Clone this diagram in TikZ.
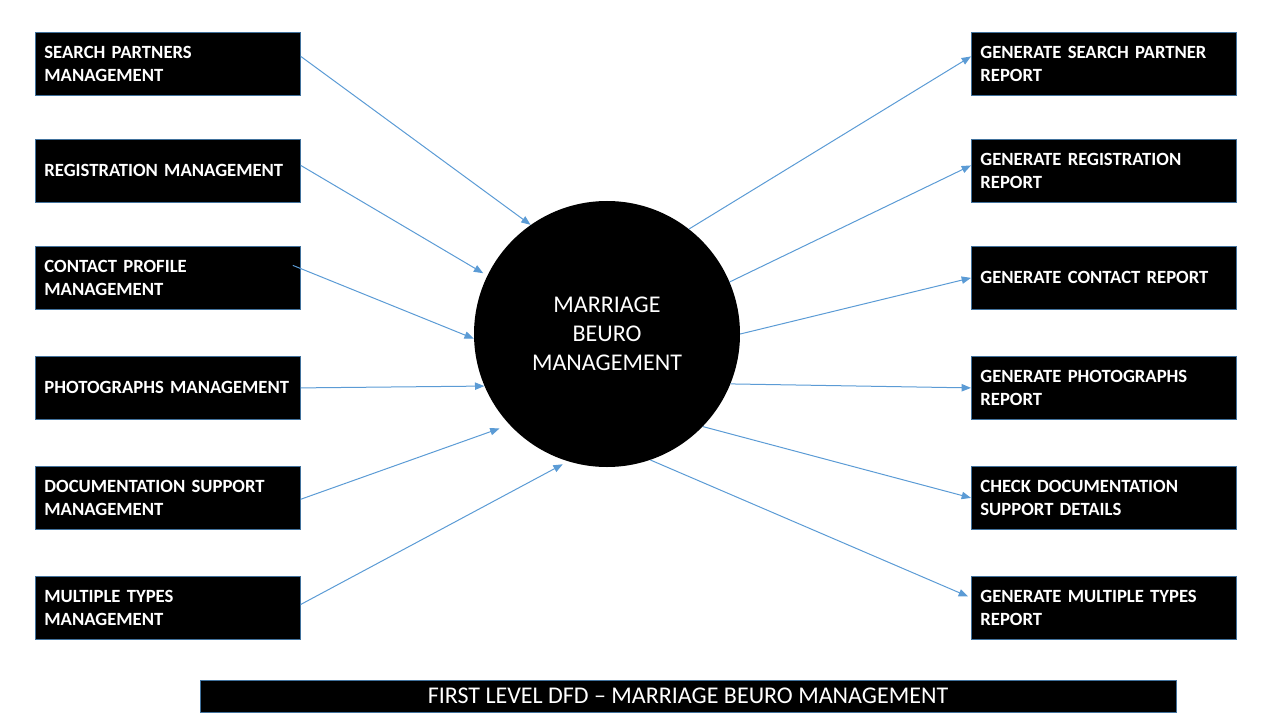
\documentclass[tikz,border=0pt]{standalone}
\usepackage{fontspec}
\setmainfont{Carlito}
\usetikzlibrary{arrows.meta,positioning}
\definecolor{flowblue}{RGB}{91,155,213}
\definecolor{edgeblue}{RGB}{65,113,156}
\tikzset{
  module/.style={draw=edgeblue, line width=0.6pt, fill=black, text=white, anchor=north west,
    minimum width=198.75pt, minimum height=47.25pt, text width=185.25pt, inner xsep=6.75pt,
    align=left, font=\fontsize{14}{17.2}\selectfont\bfseries},
  flow/.style={flowblue, line width=0.75pt, -{Triangle[length=7pt,width=5.5pt]}}
}
\begin{document}
\begin{tikzpicture}[x=0.75pt,y=-0.75pt]
			\useasboundingbox (0,0) rectangle (1280,720);
			% inputs
			\node[module] (spm) at (35,32) {SEARCH PARTNERS\\MANAGEMENT};
			\node[module] (regm) at (35,139) {REGISTRATION MANAGEMENT};
			\node[module] (cpm) at (35,246) {CONTACT PROFILE\\MANAGEMENT};
			\node[module] (phm) at (35,356) {PHOTOGRAPHS MANAGEMENT};
			\node[module] (dsm) at (35,466) {DOCUMENTATION SUPPORT\\MANAGEMENT};
			\node[module] (mtm) at (35,576) {MULTIPLE TYPES\\MANAGEMENT};
			
			% reports
			\node[module] (spr) at (971,32) {GENERATE SEARCH PARTNER\\REPORT};
			\node[module] (regr) at (971,139) {GENERATE REGISTRATION\\REPORT};
			\node[module] (cr) at (971,246) {GENERATE CONTACT REPORT};
			\node[module] (phr) at (971,356) {GENERATE PHOTOGRAPHS\\REPORT};
			\node[module] (dsd) at (971,466) {CHECK DOCUMENTATION\\SUPPORT DETAILS};
			\node[module] (mtr) at (971,576) {GENERATE MULTIPLE TYPES\\REPORT};
			
			\node[circle, fill=black, minimum size=199.5pt, inner sep=0pt, text=white, align=center,
				font=\fontsize{18}{21.75}\selectfont] (mbm) at (607,334) {MARRIAGE\\BEURO\\MANAGEMENT};
			
			\node[draw=edgeblue, line width=0.6pt, fill=black, text=white, minimum width=732pt,
				minimum height=24pt, inner sep=0pt, font=\fontsize{18}{21.75}\selectfont] (title) at (688,696)
				{FIRST LEVEL DFD – MARRIAGE BEURO MANAGEMENT};
			
			\draw[flow] ([yshift=5.6pt]spm.east) -- (mbm.125);
			\draw[flow, shorten >=3.5pt] ([yshift=4.1pt]regm.east) -- (mbm.154);
			\draw[flow] ([xshift=-6pt,yshift=9.4pt]cpm.east) -- (mbm.182);
			\draw[flow] (phm.east) -- (mbm.203.5);
			\draw[flow, shorten >=8pt] ([yshift=-1pt]dsm.east) -- (mbm.223.5);
			\draw[flow, shorten >=4.5pt] ([yshift=2.6pt]mtm.east) -- (mbm.253);
			
			\draw[flow] (mbm.52.6) -- ([yshift=5.6pt]spr.west);
			\draw[flow] (mbm.23.5) -- ([yshift=4.1pt]regr.west);
			\draw[flow] (mbm.0) -- (cr.west);
			\draw[flow] (mbm.-22) -- (phr.west);
			\draw[flow] (mbm.-44.4) -- (dsd.west);
			\draw[flow] (mbm.-71) -- ([xshift=-2.25pt,yshift=8.6pt]mtr.west);
\end{tikzpicture}
\end{document}
